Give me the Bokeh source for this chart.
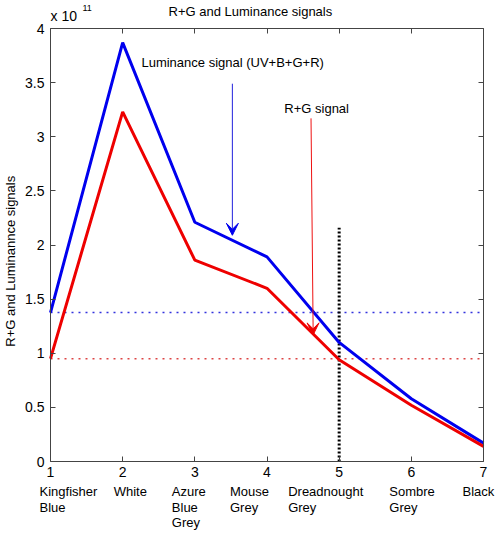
import math
from bokeh.plotting import figure
from bokeh.models import (Label, Arrow, VeeHead, LinearAxis, FixedTicker, Range1d)
from bokeh.embed import file_html
from bokeh.resources import INLINE

# ---- data (signals in units of 1e11) ----
x_vals = [1, 2, 3, 4, 5, 6, 7]
categories = ["Kingfisher\nBlue", "White", "Azure\nBlue\nGrey", "Mouse\nGrey",
              "Dreadnought\nGrey", "Sombre\nGrey", "Black"]
luminance = [1.376, 3.87, 2.21, 1.89, 1.10, 0.58, 0.17]
rg_signal = [0.95, 3.23, 1.86, 1.60, 0.94, 0.52, 0.14]
y_ticks = [0, 0.5, 1, 1.5, 2, 2.5, 3, 3.5, 4]
y_tick_labels = ["0", "0.5", "1", "1.5", "2", "2.5", "3", "3.5", "4"]
marker_x = 5
marker_top = 2.16
lum_arrow = (3.52, 3.49, 3.52, 2.09)
rg_arrow = (4.61, 3.17, 4.64, 1.17)

FONT = "Liberation Sans"
AX = "#444444"
W, H = 498, 533
# plot box in pixels: left 50, right 483, top 28, bottom 461
xpx = (483 - 50) / 6.0
ypx = (461 - 28) / 4.0
x0 = 1 - 50 / xpx
x1 = 7 + (W - 483) / xpx
y1 = 4 + 28 / ypx
y0 = -(H - 461) / ypx

p = figure(width=W, height=H, output_backend="svg", toolbar_location=None,
           x_range=Range1d(x0, x1), y_range=Range1d(y0, y1),
           x_axis_type=None, y_axis_type=None,
           min_border=0, min_border_left=0, min_border_right=0,
           min_border_top=0, min_border_bottom=0)
p.background_fill_color = "white"
p.border_fill_color = "white"
p.outline_line_color = None
p.grid.visible = False

def make_axis(ticks, labels, loc, bounds, show):
    ax = LinearAxis(ticker=FixedTicker(ticks=ticks), fixed_location=loc, bounds=bounds)
    ax.axis_line_color = AX
    ax.major_tick_line_color = AX
    ax.major_tick_in = 5
    ax.major_tick_out = 0
    ax.minor_tick_line_color = None
    ax.major_label_text_font = FONT
    ax.major_label_text_font_size = "14px"
    ax.major_label_text_color = "black"
    ax.major_label_overrides = {t: (l if show else "") for t, l in zip(ticks, labels)}
    return ax

xlab = [str(x) for x in x_vals]
bottom = make_axis(x_vals, xlab, 0, (1, 7), True)
bottom.major_label_standoff = 5
left = make_axis(y_ticks, y_tick_labels, 1, (0, 4), True)
left.major_label_standoff = 6
right = make_axis(y_ticks, y_tick_labels, 7, (0, 4), False)
top = make_axis(x_vals, xlab, 4, (1, 7), False)
p.add_layout(bottom, "below")
p.add_layout(left, "left")
p.add_layout(right, "right")
p.add_layout(top, "above")

# reference lines at the first (Kingfisher Blue) values
p.line([x_vals[0], x_vals[-1]], [luminance[0], luminance[0]], line_color="#3333dd",
       line_dash="2 5", line_width=1.5)
p.line([x_vals[0], x_vals[-1]], [rg_signal[0], rg_signal[0]], line_color="#dd4444",
       line_dash="2 5", line_width=1.5)
p.line([marker_x, marker_x], [0, marker_top], line_color="black", line_width=3,
       line_dash="2 2")

# signal lines
p.line(x_vals, luminance, line_color="#0000ee", line_width=3)
p.line(x_vals, rg_signal, line_color="#ee0000", line_width=3)

# arrows
p.add_layout(Arrow(x_start=lum_arrow[0], y_start=lum_arrow[1], x_end=lum_arrow[2],
                   y_end=lum_arrow[3], line_color="#2222dd", line_width=1,
                   end=VeeHead(size=12, fill_color="#0000ee", line_color="#0000ee",
                               line_width=1)))
p.add_layout(Arrow(x_start=rg_arrow[0], y_start=rg_arrow[1], x_end=rg_arrow[2],
                   y_end=rg_arrow[3], line_color="#ee1111", line_width=1,
                   end=VeeHead(size=12, fill_color="#ee0000", line_color="#ee0000",
                               line_width=1)))

def txt(x, y, s, size="13px", align="left", angle=0, xoff=0):
    p.add_layout(Label(x=x, y=y, text=s, text_font=FONT, text_font_size=size,
                       text_align=align, text_baseline="middle", angle=angle,
                       x_offset=xoff, text_color="black"))

txt(2.26, 3.686, "Luminance signal (UV+B+G+R)")
txt(4.24, 3.26, "R+G signal")

# title, exponent, y label
txt(3.77, 4.157, "R+G and Luminance signals", align="center")
txt(1.0, 4.12, "x 10", size="14px")
txt(1.0, 4.19, "11", size="9px", xoff=32)
txt(0.446, 1.85, "R+G and Luminannce signals", angle=math.pi / 2, align="center")

# category names under ticks
cat_offsets = [-11, -9, -23, -37, -51, -22, -21]
line_y = [-0.277, -0.425, -0.563]
for xv, name, off in zip(x_vals, categories, cat_offsets):
    for i, part in enumerate(name.split("\n")):
        txt(xv, line_y[i], part, xoff=off)

open("out.html", "w").write(file_html(p, INLINE))
